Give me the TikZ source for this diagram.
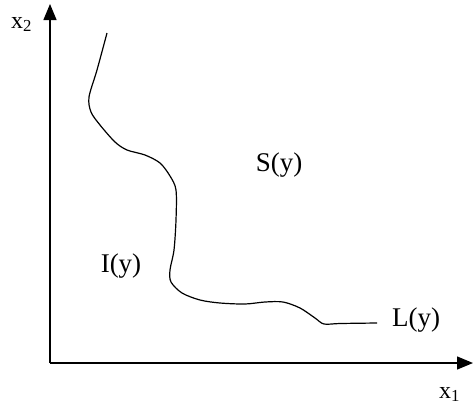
\documentclass[tikz,border=0pt]{standalone}
\usepackage{fontspec}
\setmainfont{Liberation Serif}
\usetikzlibrary{arrows.meta}
\begin{document}
\begin{tikzpicture}[x=1pt,y=-1pt,
  axis/.style={line width=1.3pt,-{Triangle[length=16pt,width=13pt]}},
  lbl/.style={font=\fontsize{27}{30}\selectfont,inner sep=0pt},
  sub/.style={font=\fontsize{24}{28}\selectfont,inner sep=0pt},
  curve/.style={line width=1.2pt,line join=round}]
\useasboundingbox (0,0) rectangle (473,410);
\coordinate (o) at (50,363);
\coordinate (yt) at (50,4);
\coordinate (xt) at (473,363);
\draw[axis] (o) -- (yt);
\draw[axis] (o) -- (xt);
\draw[curve] plot[smooth,tension=0.5] coordinates {
 (107,33) (97,70) (89,97) (91,112) (100,125) (115,142) (127,150) (145,155)
 (160,163) (170,176) (176,190) (176,220) (174,250) (170,270) (171,282)
 (182,293) (200,300) (220,303) (245,304) (265,302) (283,302) (300,308)
 (315,318) (324,324) (340,323.5) (377,323)};
\node[sub,anchor=base west] (x2) at (11,28) {x\textsubscript{2}};
\node[sub,anchor=base west] (x1) at (439,398) {x\textsubscript{1}};
\node[lbl] (S) at (279,165) {S(y)};
\node[lbl] (I) at (121,266) {I(y)};
\node[lbl] (L) at (416,320) {L(y)};
\end{tikzpicture}
\end{document}
